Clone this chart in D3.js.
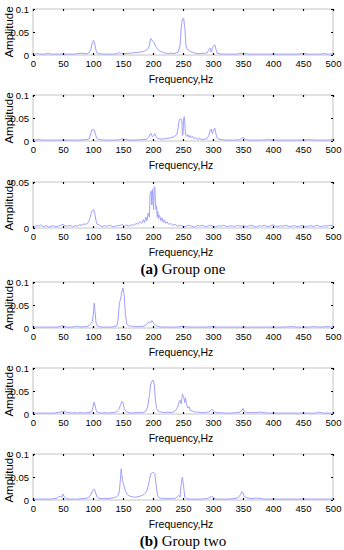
<!DOCTYPE html>
<html>
<head>
<meta charset="utf-8">
<script src="https://cdn.jsdelivr.net/npm/d3@7"></script>
<style>
  body { margin: 0; background: #fff; }
  svg { display: block; }
  .tick text { font-family: "Liberation Sans", Arial, sans-serif; font-size: 9.5px; fill: #000; }
  .tick line { stroke: #000; stroke-width: 1.2; }
  .domain { display: none; }
</style>
</head>
<body>
<div id="chart"></div>
<script>
// [frequency Hz, amplitude], one array per panel
var g1a = [[0,.003],[3,.002],[7,.003],[10,.002],[15,.002],[20,.002],[25,.003],[30,.002],[35,.002],[40,.002],[45,.002],[50,.002],[55,.002],[60,.002],[65,.002],[70,.002],[75,.003],[80,.004],[85,.003],[90,.003],[94,.005],[97,.015],[99,.028],[101,.032],[103,.024],[105,.01],[107,.004],[110,.003],[115,.002],[120,.002],[125,.002],[130,.002],[135,.002],[140,.003],[143,.005],[146,.004],[150,.003],[155,.003],[160,.004],[165,.004],[170,.006],[173,.005],[177,.006],[181,.007],[185,.008],[188,.01],[191,.012],[194,.02],[196,.036],[198,.032],[200,.03],[202,.027],[204,.02],[206,.016],[208,.012],[211,.009],[214,.007],[218,.005],[222,.004],[226,.003],[230,.004],[235,.003],[239,.005],[242,.006],[245,.02],[247,.06],[249,.078],[251,.08],[253,.06],[255,.02],[257,.012],[260,.01],[263,.007],[266,.006],[270,.004],[275,.003],[280,.003],[285,.004],[290,.004],[293,.012],[295,.015],[297,.006],[299,.015],[301,.02],[303,.022],[305,.012],[307,.004],[310,.003],[315,.002],[320,.002],[330,.002],[340,.002],[345,.003],[350,.004],[353,.003],[360,.002],[370,.002],[380,.002],[390,.002],[400,.002],[410,.002],[420,.002],[430,.002],[440,.002],[450,.003],[460,.002],[470,.002],[480,.002],[485,.003],[490,.002],[500,.002]];

var g1b = [[0,.003],[5,.002],[10,.003],[15,.002],[20,.002],[25,.002],[30,.002],[35,.002],[40,.002],[45,.002],[50,.002],[55,.002],[60,.002],[65,.002],[70,.002],[75,.002],[80,.002],[85,.003],[90,.003],[94,.005],[96,.015],[98,.024],[100,.025],[102,.024],[104,.016],[106,.006],[108,.004],[112,.003],[120,.002],[130,.002],[140,.002],[145,.003],[148,.005],[151,.004],[155,.003],[160,.002],[170,.002],[180,.003],[185,.003],[190,.004],[193,.008],[195,.015],[197,.016],[199,.009],[201,.012],[203,.016],[205,.01],[207,.006],[210,.005],[215,.004],[220,.005],[225,.006],[230,.007],[234,.009],[237,.011],[240,.015],[242,.03],[244,.047],[246,.048],[248,.047],[249,.012],[250,.015],[251,.045],[252,.053],[253,.04],[254,.015],[256,.01],[258,.014],[260,.008],[262,.012],[264,.007],[266,.01],[268,.005],[271,.007],[274,.004],[278,.005],[282,.003],[286,.004],[290,.005],[293,.012],[295,.022],[297,.026],[299,.016],[301,.025],[303,.028],[305,.015],[307,.006],[310,.004],[315,.003],[320,.002],[330,.002],[340,.002],[345,.003],[348,.006],[351,.007],[354,.003],[360,.002],[370,.002],[380,.002],[390,.003],[400,.002],[410,.002],[420,.002],[430,.002],[440,.002],[450,.002],[460,.003],[470,.002],[480,.002],[490,.002],[500,.003]];

var g1c = [[0,.002],[4,.001],[7,.003],[10,.002],[13,.0035],[17,.0015],[22,.0025],[26,.001],[30,.002],[34,.0025],[37,.0015],[42,.002],[46,.003],[50,.004],[53,.0025],[58,.002],[62,.003],[66,.0015],[70,.0025],[74,.002],[78,.0035],[82,.003],[85,.0045],[88,.004],[91,.005],[93,.007],[95,.011],[97,.016],[99,.019],[101,.02],[103,.016],[105,.008],[107,.004],[111,.003],[115,.0015],[119,.0025],[124,.002],[128,.003],[133,.0015],[137,.002],[142,.0025],[146,.003],[149,.004],[152,.002],[156,.003],[160,.002],[164,.0035],[168,.003],[172,.005],[175,.004],[178,.007],[181,.005],[184,.009],[186,.006],[188,.012],[190,.008],[192,.016],[194,.012],[195,.036],[197,.04],[198,.025],[199,.042],[200,.03],[201,.02],[202,.045],[203,.044],[204,.03],[205,.02],[206,.024],[207,.012],[208,.018],[209,.01],[211,.014],[213,.008],[215,.011],[217,.006],[219,.009],[221,.005],[223,.007],[226,.004],[229,.005],[233,.003],[237,.004],[241,.002],[246,.003],[251,.0015],[255,.002],[260,.003],[264,.002],[269,.001],[273,.0025],[278,.002],[282,.003],[287,.0015],[291,.002],[296,.003],[300,.002],[305,.001],[309,.0025],[314,.002],[318,.003],[323,.0015],[327,.002],[332,.0025],[336,.0015],[341,.003],[345,.002],[350,.0025],[354,.0015],[359,.002],[363,.003],[368,.002],[372,.001],[377,.0025],[381,.002],[386,.003],[390,.0015],[395,.002],[400,.0035],[404,.002],[409,.0015],[413,.0025],[418,.002],[422,.003],[427,.0015],[431,.002],[436,.0025],[440,.0015],[445,.002],[450,.003],[454,.0015],[459,.002],[463,.0025],[468,.0015],[472,.003],[477,.002],[481,.0015],[486,.0025],[490,.002],[495,.003],[500,.002]];

var g2a = [[0,.002],[5,.002],[10,.002],[15,.002],[20,.002],[25,.002],[30,.002],[35,.002],[40,.002],[45,.003],[48,.005],[51,.004],[55,.002],[60,.002],[65,.002],[70,.003],[73,.004],[76,.003],[80,.002],[85,.003],[90,.003],[94,.006],[97,.01],[99,.014],[101,.035],[102,.054],[103,.04],[105,.012],[107,.005],[110,.003],[115,.002],[120,.002],[125,.002],[130,.002],[135,.003],[140,.005],[142,.02],[144,.055],[146,.063],[148,.078],[150,.087],[152,.072],[154,.03],[156,.01],[158,.006],[162,.004],[166,.004],[170,.003],[175,.003],[180,.003],[185,.004],[189,.007],[192,.012],[194,.014],[196,.011],[198,.016],[200,.013],[202,.009],[205,.005],[210,.003],[215,.002],[220,.002],[230,.002],[240,.002],[245,.003],[250,.004],[253,.003],[260,.002],[270,.002],[280,.002],[290,.002],[300,.003],[305,.002],[310,.002],[320,.002],[330,.002],[340,.002],[350,.002],[360,.002],[370,.002],[380,.002],[390,.002],[400,.002],[410,.002],[420,.002],[430,.003],[440,.002],[450,.002],[460,.002],[470,.003],[475,.002],[480,.002],[490,.003],[500,.002]];

var g2b = [[0,.002],[5,.002],[10,.002],[15,.002],[20,.002],[25,.002],[30,.002],[35,.002],[40,.003],[45,.004],[50,.005],[52,.007],[55,.004],[60,.003],[65,.002],[70,.003],[75,.002],[80,.003],[85,.002],[90,.003],[95,.003],[98,.006],[100,.015],[102,.026],[104,.015],[106,.005],[110,.003],[115,.002],[120,.003],[125,.002],[130,.003],[135,.003],[140,.005],[143,.01],[146,.02],[148,.027],[150,.025],[152,.012],[155,.005],[160,.003],[165,.002],[170,.003],[175,.003],[180,.003],[185,.004],[188,.006],[191,.015],[194,.04],[196,.063],[198,.071],[200,.074],[202,.065],[204,.03],[206,.012],[208,.007],[211,.005],[215,.004],[220,.003],[225,.004],[230,.003],[235,.005],[238,.008],[241,.015],[243,.025],[245,.03],[247,.022],[249,.043],[251,.038],[253,.025],[254,.035],[256,.02],[258,.013],[260,.016],[262,.008],[265,.007],[268,.005],[272,.004],[276,.004],[280,.003],[285,.003],[290,.004],[295,.005],[298,.01],[300,.008],[303,.004],[310,.003],[320,.002],[330,.002],[340,.003],[345,.004],[348,.008],[350,.012],[352,.006],[355,.003],[360,.003],[370,.003],[380,.004],[385,.003],[390,.002],[400,.002],[410,.002],[420,.002],[430,.002],[440,.002],[450,.002],[460,.002],[470,.002],[478,.004],[482,.002],[490,.002],[500,.002]];

var g2c = [[0,.002],[5,.002],[10,.002],[15,.002],[20,.002],[25,.002],[30,.002],[35,.003],[40,.004],[43,.007],[46,.008],[48,.006],[50,.013],[52,.008],[55,.003],[60,.002],[65,.002],[70,.002],[75,.002],[80,.003],[85,.003],[90,.004],[94,.007],[97,.013],[99,.02],[101,.024],[103,.022],[105,.013],[107,.006],[110,.004],[115,.003],[120,.003],[125,.003],[130,.004],[135,.005],[139,.007],[142,.01],[144,.02],[146,.05],[147,.068],[148,.055],[150,.038],[152,.03],[154,.02],[157,.012],[160,.009],[165,.007],[170,.006],[175,.007],[180,.009],[185,.012],[189,.018],[192,.03],[195,.05],[197,.057],[199,.06],[201,.06],[203,.057],[205,.035],[207,.015],[209,.006],[212,.004],[218,.003],[225,.003],[232,.003],[238,.004],[241,.008],[243,.01],[245,.006],[247,.035],[249,.05],[251,.03],[253,.006],[256,.003],[262,.002],[270,.002],[280,.002],[290,.003],[295,.006],[298,.008],[301,.005],[305,.002],[315,.002],[325,.002],[335,.003],[342,.005],[346,.012],[348,.018],[350,.016],[352,.008],[355,.005],[360,.004],[365,.003],[370,.004],[375,.004],[380,.003],[385,.002],[395,.002],[405,.002],[415,.002],[425,.002],[435,.002],[445,.002],[455,.002],[465,.002],[475,.002],[485,.002],[500,.002]];

var xTicks = [0, 50, 100, 150, 200, 250, 300, 350, 400, 450, 500];
var yTicksFull = [0, 0.05, 0.1];
var yTicksHalf = [0, 0.05];

var panels = [
  {data: g1a, ymax: 0.1,  yticks: yTicksFull, top: 9},
  {data: g1b, ymax: 0.1,  yticks: yTicksFull, top: 95},
  {data: g1c, ymax: 0.05, yticks: yTicksHalf, top: 182},
  {data: g2a, ymax: 0.1,  yticks: yTicksFull, top: 282},
  {data: g2b, ymax: 0.1,  yticks: yTicksFull, top: 368},
  {data: g2c, ymax: 0.1,  yticks: yTicksFull, top: 454}
];
var captions = [
  {tag: "(a)", text: " Group one", y: 274},
  {tag: "(b)", text: " Group two", y: 546}
];

var width = 344, height = 550;
var left = 33, right = 333, ph = 46;
var lineColor = "#a0a0ff";

var svg = d3.select("#chart").append("svg")
  .attr("width", width)
  .attr("height", height);

var xScale = d3.scaleLinear().domain([0, 500]).range([left, right]);

panels.forEach(function(p) {
  var yScale = d3.scaleLinear().domain([0, p.ymax]).range([p.top + ph, p.top]);
  var g = svg.append("g");

  g.append("rect")
    .attr("x", left).attr("y", p.top)
    .attr("width", right - left).attr("height", ph)
    .attr("fill", "none")
    .attr("stroke", "#c4c4c4")
    .attr("stroke-width", 1);

  var line = d3.line()
    .x(d => xScale(d[0]))
    .y(d => yScale(d[1]));

  g.append("path")
    .attr("d", line(p.data))
    .attr("fill", "none")
    .attr("stroke", lineColor)
    .attr("stroke-width", 1)
    .attr("stroke-linejoin", "round");

  var yfmt = d => d === 0 ? "0" : String(d);

  g.append("g")
    .attr("transform", `translate(0, ${p.top + ph})`)
    .call(d3.axisBottom(xScale).tickValues(xTicks).tickSizeInner(-2).tickSizeOuter(0).tickPadding(5));
  g.append("g")
    .attr("transform", `translate(0, ${p.top})`)
    .call(d3.axisTop(xScale).tickValues(xTicks).tickSizeInner(-2).tickSizeOuter(0).tickFormat(""));
  g.append("g")
    .attr("transform", `translate(${left}, 0)`)
    .call(d3.axisLeft(yScale).tickValues(p.yticks).tickSizeInner(-2).tickSizeOuter(0).tickPadding(4).tickFormat(yfmt));
  g.append("g")
    .attr("transform", `translate(${right}, 0)`)
    .call(d3.axisRight(yScale).tickValues(p.yticks).tickSizeInner(-2).tickSizeOuter(0).tickFormat(""));

  g.append("text")
    .attr("transform", `translate(13, ${p.top + ph / 2}) rotate(-90)`)
    .attr("text-anchor", "middle")
    .style("font-family", "'Liberation Sans', Arial, sans-serif")
    .style("font-size", "11.5px")
    .text("Amplitude");

  g.append("text")
    .attr("x", (left + right) / 2 - 2)
    .attr("y", p.top + ph + 28)
    .attr("text-anchor", "middle")
    .style("font-family", "'Liberation Sans', Arial, sans-serif")
    .style("font-size", "10.5px")
    .text("Frequency,Hz");
});

captions.forEach(function(c) {
  var t = svg.append("text")
    .attr("x", 183)
    .attr("y", c.y)
    .attr("text-anchor", "middle")
    .style("font-family", "'Liberation Serif', 'Times New Roman', serif")
    .style("font-size", "15px");
  t.append("tspan").style("font-weight", "bold").text(c.tag);
  t.append("tspan").text(c.text);
});
</script>
</body>
</html>
